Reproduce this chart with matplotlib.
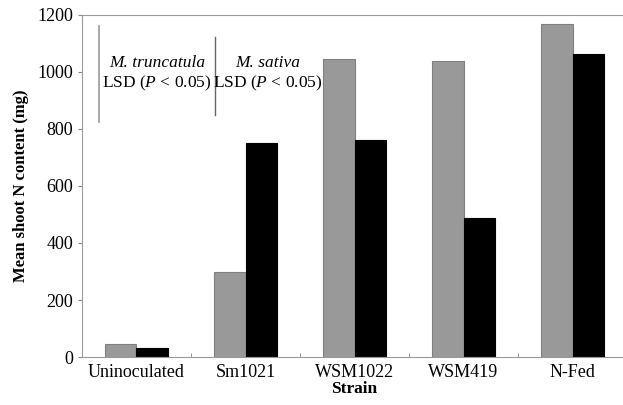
import matplotlib
matplotlib.use("Agg")
import matplotlib.pyplot as plt
import numpy as np

strains = ["Uninoculated", "Sm1021", "WSM1022", "WSM419", "N-Fed"]
truncatula = [47, 299, 1046, 1040, 1168]
sativa = [32, 750, 762, 487, 1063]
lsd_truncatula = [825, 1161]
lsd_sativa = [849, 1123]

plt.rcParams["font.family"] = ["Liberation Serif", "DejaVu Serif"]
plt.rcParams["mathtext.fontset"] = "custom"
plt.rcParams["mathtext.it"] = "Liberation Serif:italic"
plt.rcParams["mathtext.rm"] = "Liberation Serif"

fig = plt.figure(figsize=(6.23, 4.05), dpi=100)
ax = fig.add_axes([0.1316, 0.1185, 0.875, 0.8445])

x = np.arange(len(strains))
w = 0.29
ax.bar(x - w / 2, truncatula, w, color="#999999", edgecolor="#808080", linewidth=0.8)
ax.bar(x + w / 2, sativa, w, color="black", edgecolor="black", linewidth=0.8)

ax.set_xlim(-0.5, len(strains) - 0.5)
ax.set_ylim(0, 1200)
ax.set_yticks(range(0, 1201, 200))
ax.set_xticks(x)
ax.set_xticklabels(strains, fontsize=13)
ax.tick_params(axis="x", length=0, pad=5)
ax.set_xticks(np.arange(0.5, len(strains) - 0.5, 1), minor=True)
ax.tick_params(axis="x", which="minor", direction="in", length=3, color="#888888")
ax.tick_params(axis="y", direction="out", length=3, color="#888888", labelsize=13)

for s in ["left", "bottom", "top"]:
    ax.spines[s].set_color("#999999")
ax.spines["right"].set_visible(False)

ax.set_ylabel("Mean shoot N content (mg)", fontsize=12, fontweight="bold", labelpad=6)
ax.set_xlabel("Strain", fontsize=12.5, fontweight="bold", labelpad=0)

# LSD bars
ax.plot([-0.34, -0.34], lsd_truncatula, color="#999999", lw=1.2)
ax.plot([0.72, 0.72], lsd_sativa, color="#666666", lw=1)
ax.text(0.19, 1030, "M. truncatula", style="italic", ha="center", va="center", fontsize=12.5)
ax.text(0.19, 960, "LSD ($P$ < 0.05)", ha="center", va="center", fontsize=12.5)
ax.text(1.2, 1030, "M. sativa", style="italic", ha="center", va="center", fontsize=12.5)
ax.text(1.2, 960, "LSD ($P$ < 0.05)", ha="center", va="center", fontsize=12.5)

fig.savefig("out.png", dpi=100)
